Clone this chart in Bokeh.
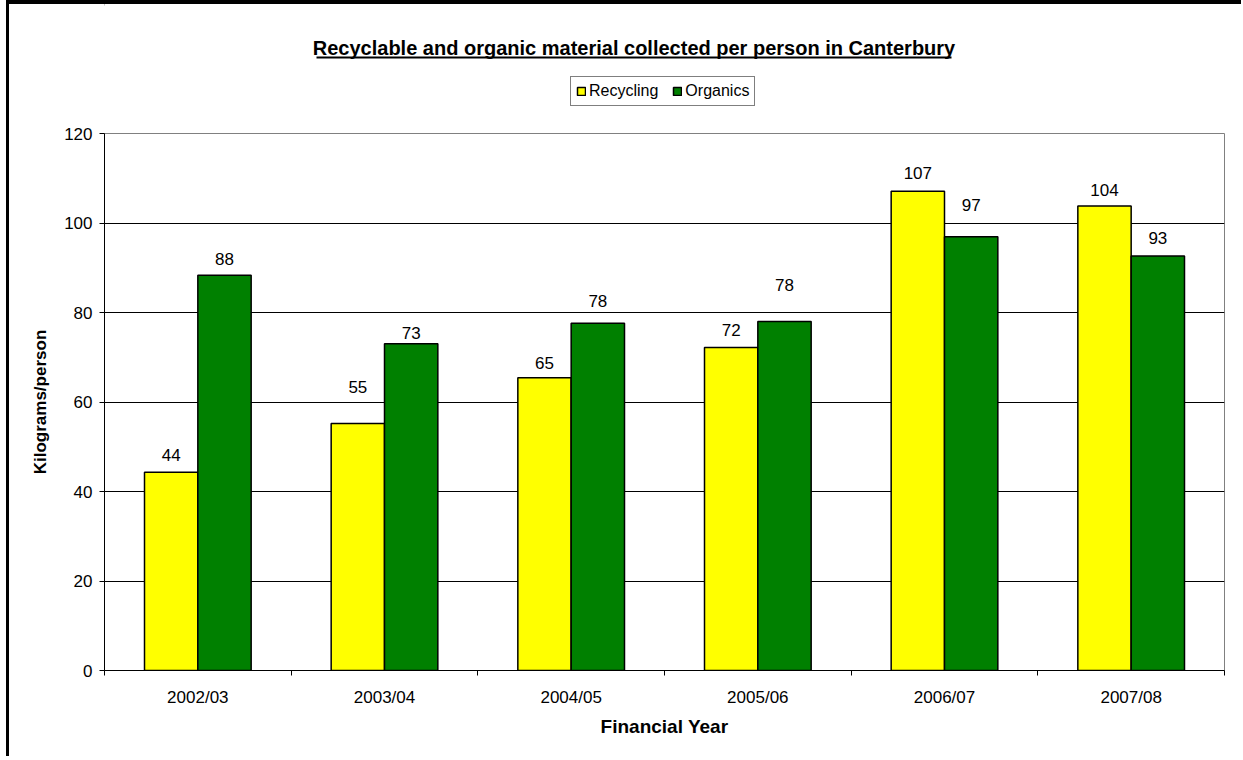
from bokeh.plotting import figure
from bokeh.layouts import column
from bokeh.models import (Range1d, FixedTicker, Legend, LegendItem, Label,
                          ColumnDataSource, LabelSet)
from bokeh.core.properties import value
from bokeh.embed import file_html
from bokeh.resources import INLINE
from bokeh.transform import dodge
import numpy as np

# ---- data ----
years = ["2002/03", "2003/04", "2004/05", "2005/06", "2006/07", "2007/08"]
recycling = [44.3, 55.2, 65.4, 72.2, 107.1, 103.8]
organics = [88.3, 73.0, 77.6, 78.0, 96.9, 92.6]
y_ticks = [0, 20, 40, 60, 80, 100, 120]
series_names = ["Recycling", "Organics"]
series_colors = ["#FFFF00", "#008000"]
title_text = "Recyclable and organic material collected per person in Canterbury"

# label placement (pixels above bar top, layout only)
rec_label_gap = [17, 36, 15, 17, 18, 16]
org_label_gap = [16, 11, 22, 36, 32, 18]

FONT = "Liberation Sans"
W = 1232
H_TOP = 119
H_MAIN = 633
BW = 2 / 7

pos = list(np.arange(len(years)) + 0.5)
src = ColumnDataSource(dict(
    x=pos, rec=recycling, org=organics,
    rec_txt=[str(int(round(v))) for v in recycling],
    org_txt=[str(int(round(v))) for v in organics],
    rec_gap=rec_label_gap, org_gap=org_label_gap,
))

# ---------- top strip: title + legend (frame aligned with chart frame) ----------
top = figure(width=W, height=H_TOP, output_backend="svg", toolbar_location=None,
             x_range=Range1d(104, 1224), y_range=Range1d(H_TOP, 0),
             x_axis_type=None, y_axis_type=None,
             min_border=0, min_border_left=0, min_border_right=0,
             min_border_top=0, min_border_bottom=0,
             background_fill_color="white", border_fill_color="white")
top.outline_line_color = None
top.grid.grid_line_color = None

top.add_layout(Label(x=633.5, y=43, text=title_text, text_align="center",
                     text_baseline="middle", text_font=FONT,
                     text_font_style="bold", text_font_size="20px",
                     text_color="black"))
top.segment(x0=[316], y0=[53], x1=[951], y1=[53], line_color="black", line_width=2)

dummy = ColumnDataSource(dict(x=[-1000], top=[0]))
lr = [top.vbar(x="x", top="top", width=1, source=dummy, fill_color=c,
               line_color="black", line_width=1.5) for c in series_colors]
legend = Legend(items=[LegendItem(label=n, renderers=[r]) for n, r in zip(series_names, lr)],
                orientation="horizontal", location=(466, 17),
                border_line_color="black", border_line_width=1,
                background_fill_color="white", background_fill_alpha=1,
                label_text_font=FONT, label_text_font_size="16px",
                label_text_color="black",
                glyph_width=10, glyph_height=10, padding=5, spacing=14,
                label_standoff=3, margin=0, label_height=14)
top.add_layout(legend, "center")

# ---------- main chart ----------
p = figure(width=W, height=H_MAIN, output_backend="svg", toolbar_location=None,
           x_range=Range1d(0, len(years)), y_range=Range1d(y_ticks[0], y_ticks[-1]),
           min_border_left=95, min_border_right=17, min_border_top=10, min_border_bottom=86,
           background_fill_color="white", border_fill_color="white")
p.outline_line_color = "#808080"
p.outline_line_width = 1

r1 = p.vbar(x=dodge("x", -BW / 2, range=p.x_range), top="rec", width=BW, source=src,
            fill_color=series_colors[0], line_color="black", line_width=1.5)
r2 = p.vbar(x=dodge("x", BW / 2, range=p.x_range), top="org", width=BW, source=src,
            fill_color=series_colors[1], line_color="black", line_width=1.5)

for yfield, tfield, gfield, dx in [("rec", "rec_txt", "rec_gap", -BW / 2),
                                   ("org", "org_txt", "org_gap", BW / 2)]:
    p.add_layout(LabelSet(x=dodge("x", dx, range=p.x_range), y=yfield, text=tfield,
                          y_offset=gfield, source=src, text_align="center",
                          text_baseline="middle", text_font=value(FONT),
                          text_font_size=value("17px"), text_color="black"))

# grid
p.xgrid.grid_line_color = None
p.ygrid.grid_line_color = "black"
p.ygrid.grid_line_width = 1
p.ygrid.ticker = FixedTicker(ticks=y_ticks)

# y axis
p.yaxis.ticker = FixedTicker(ticks=y_ticks)
p.yaxis.axis_label = "Kilograms/person"
p.yaxis.axis_label_text_font = FONT
p.yaxis.axis_label_text_font_style = "bold"
p.yaxis.axis_label_text_font_size = "17px"
p.yaxis.axis_label_text_color = "black"
p.yaxis.axis_label_standoff = 11
p.yaxis.major_label_text_font = FONT
p.yaxis.major_label_text_font_size = "17px"
p.yaxis.major_label_text_color = "black"
p.yaxis.major_label_standoff = 7
p.yaxis.major_tick_out = 5
p.yaxis.major_tick_in = 0
p.yaxis.minor_tick_line_color = None
p.yaxis.axis_line_color = "black"
p.yaxis.major_tick_line_color = "black"

# x axis
p.xaxis.ticker = FixedTicker(ticks=pos, minor_ticks=list(range(len(years) + 1)))
p.xaxis.major_label_overrides = {float(v): y for v, y in zip(pos, years)}
p.xaxis.major_tick_line_color = None
p.xaxis.major_tick_out = 0
p.xaxis.major_tick_in = 0
p.xaxis.minor_tick_line_color = "black"
p.xaxis.minor_tick_out = 5
p.xaxis.minor_tick_in = 0
p.xaxis.major_label_text_font = FONT
p.xaxis.major_label_text_font_size = "17px"
p.xaxis.major_label_text_color = "black"
p.xaxis.major_label_standoff = 12
p.xaxis.axis_label = "Financial Year"
p.xaxis.axis_label_text_font = FONT
p.xaxis.axis_label_text_font_style = "bold"
p.xaxis.axis_label_text_font_size = "19px"
p.xaxis.axis_label_text_color = "black"
p.xaxis.axis_label_standoff = 6
p.xaxis.axis_line_color = "black"

layout = column(top, p, spacing=0)
layout.styles = {"border-left": "3px solid black", "border-top": "4px solid black",
                 "margin-left": "6px"}

open("out.html", "w").write(file_html(layout, INLINE))
